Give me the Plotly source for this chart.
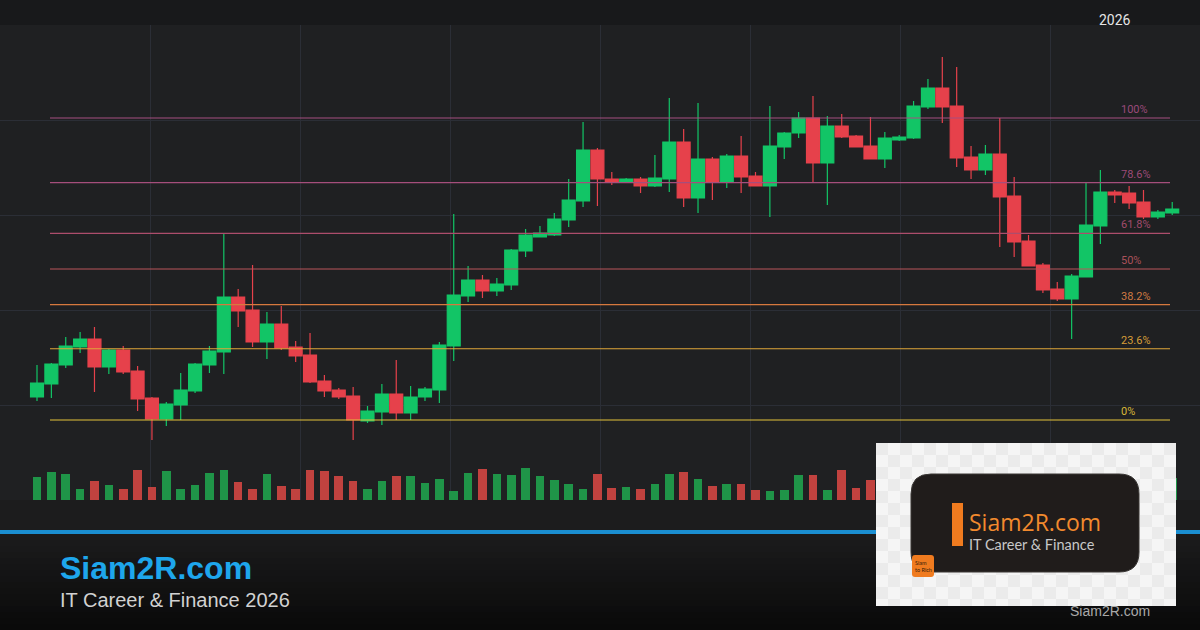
import plotly.graph_objects as go

W, H = 1200, 630

# ---------------- data (price units) ----------------
opens = [203, 216, 235, 253, 261, 233, 250, 229, 202, 181,
         195, 209, 235, 248, 303, 290, 258, 276, 253, 245,
         219, 210, 204, 179, 188, 206, 187, 203, 210, 254,
         304, 320, 309, 315, 349, 363, 365, 380, 399, 450,
         421, 418, 421, 414, 421, 458, 402, 441, 418, 444,
         424, 414, 453, 467, 482, 437, 474, 464, 454, 441,
         460, 462, 493, 512, 494, 443, 430, 446, 404, 359,
         335, 311, 301, 323, 374, 408, 407, 398, 383, 387]
closes = [217, 236, 254, 261, 233, 250, 228, 201, 181, 196,
          210, 236, 249, 303, 289, 258, 276, 252, 244, 218,
          209, 203, 180, 189, 206, 187, 203, 211, 255, 305,
          320, 309, 316, 350, 365, 367, 381, 400, 450, 421,
          418, 421, 414, 422, 458, 402, 441, 418, 444, 423,
          414, 454, 467, 482, 437, 474, 463, 453, 441, 462,
          463, 494, 512, 493, 442, 430, 446, 403, 358, 334,
          310, 301, 324, 375, 408, 405, 397, 383, 388, 391]
highs = [235, 237, 263, 268, 273, 251, 254, 234, 203, 198,
         227, 237, 254, 366, 311, 335, 288, 294, 259, 267,
         225, 212, 213, 194, 216, 240, 214, 213, 258, 386,
         334, 325, 322, 351, 371, 374, 387, 421, 478, 452,
         428, 422, 423, 445, 502, 471, 497, 443, 446, 464,
         428, 494, 468, 488, 504, 484, 486, 465, 483, 468,
         465, 499, 521, 543, 533, 454, 455, 482, 423, 365,
         337, 318, 326, 417, 430, 410, 414, 410, 390, 398]
lows = [199, 202, 232, 247, 208, 226, 226, 189, 154, 174,
        180, 207, 227, 226, 273, 253, 241, 250, 238, 217,
        203, 201, 133, 177, 175, 180, 180, 199, 197, 239,
        298, 302, 304, 310, 343, 363, 364, 373, 393, 394,
        415, 417, 407, 413, 408, 393, 387, 400, 412, 407,
        414, 383, 441, 462, 418, 395, 462, 453, 441, 432,
        459, 461, 491, 477, 433, 421, 425, 353, 343, 334,
        307, 299, 261, 323, 356, 397, 391, 381, 381, 385]
volumes = [23, 28, 26, 11, 19, 15, 11, 30, 13, 29,
           11, 15, 27, 30, 18, 11, 26, 14, 11, 30,
           29, 24, 19, 11, 19, 24, 24, 17, 21, 9,
           27, 31, 26, 25, 32, 24, 20, 16, 11, 26,
           12, 13, 11, 16, 26, 28, 21, 14, 16, 16,
           10, 9, 10, 25, 25, 10, 30, 12, 20, 18,
           22, 15, 26, 20, 24, 14, 28, 30, 25, 22,
           27, 18, 16, 21, 14, 12, 10, 15, 13, 22]

fib_ratios = [0.0, 0.236, 0.382, 0.5, 0.618, 0.786, 1.0]
fib_labels = ["0%", "23.6%", "38.2%", "50%", "61.8%", "78.6%", "100%"]
fib_line_colors = ["#e3c23a", "#e0a63a", "#d7793e", "#b9545a", "#ad4d6c", "#a54e7c", "#a64e80"]
fib_text_colors = ["#d9b838", "#d79d38", "#cf7a42", "#a9515a", "#a24b6c", "#9d4b78", "#9a4a7a"]
FIB_LOW, FIB_HIGH = 180, 482
year_label = "2026"

# ---------------- styling ----------------
UP, DOWN = "#12c566", "#e6414b"
VOL_UP, VOL_DOWN = "#1f9448", "#c1423f"
GRID = "#2b2e36"
PX_PER_BAR, FIRST_BAR_PX = 14.37, 37.0
PLOT_TOP_PX, PLOT_BOTTOM_PX = 25, 500

x = list(range(len(opens)))


def px_x(p):
    return (p - FIRST_BAR_PX) / PX_PER_BAR


def py(p):
    return (H - p) / H


def pxx(p):
    return p / W


fig = go.Figure()
fig.add_trace(go.Candlestick(
    x=x, open=opens, high=highs, low=lows, close=closes,
    increasing=dict(line=dict(color=UP, width=1.2), fillcolor=UP),
    decreasing=dict(line=dict(color=DOWN, width=1.2), fillcolor=DOWN),
    whiskerwidth=0, showlegend=False, hoverinfo="skip",
    xaxis="x", yaxis="y"))

vol_colors = [VOL_UP if c >= o else VOL_DOWN for o, c in zip(opens, closes)]
fig.add_trace(go.Bar(x=x, y=volumes, marker=dict(color=vol_colors, line=dict(width=0)),
                     width=0.6, showlegend=False, hoverinfo="skip",
                     xaxis="x", yaxis="y2"))

shapes = []
# backgrounds
shapes.append(dict(type="rect", xref="paper", yref="paper", x0=0, x1=1, y0=py(25), y1=1,
                   fillcolor="#18191b", line=dict(width=0), layer="below"))
shapes.append(dict(type="rect", xref="paper", yref="paper", x0=0, x1=1, y0=py(530), y1=py(500),
                   fillcolor="#1c1c1d", line=dict(width=0), layer="below"))
# footer gradient
n_bands = 16
top, bot = 534, H
c0, c1 = (0x1b, 0x1b, 0x1c), (0x0a, 0x0a, 0x0a)
for i in range(n_bands):
    t = i / (n_bands - 1)
    col = "rgb(%d,%d,%d)" % tuple(round(a + (b - a) * t) for a, b in zip(c0, c1))
    y0p = top + (bot - top) * i / n_bands
    y1p = top + (bot - top) * (i + 1) / n_bands
    shapes.append(dict(type="rect", xref="paper", yref="paper", x0=0, x1=1,
                       y0=py(y1p), y1=py(y0p), fillcolor=col, line=dict(width=0), layer="below"))
# blue rule
shapes.append(dict(type="rect", xref="paper", yref="paper", x0=0, x1=1, y0=py(534), y1=py(530),
                   fillcolor="#1b8fd2", line=dict(width=0), layer="above"))

# fib lines
for r, col in zip(fib_ratios, fib_line_colors):
    lvl = FIB_LOW + r * (FIB_HIGH - FIB_LOW)
    shapes.append(dict(type="line", xref="paper", yref="y", x0=pxx(50), x1=pxx(1170),
                       y0=lvl, y1=lvl, line=dict(color=col, width=1.2), layer="above"))


def rounded_rect(x0, y0, x1, y1, r):
    X = lambda v: pxx(v)
    Y = lambda v: py(v)
    return ("M %f,%f L %f,%f Q %f,%f %f,%f L %f,%f Q %f,%f %f,%f L %f,%f Q %f,%f %f,%f "
            "L %f,%f Q %f,%f %f,%f Z") % (
        X(x0 + r), Y(y0), X(x1 - r), Y(y0), X(x1), Y(y0), X(x1), Y(y0 + r),
        X(x1), Y(y1 - r), X(x1), Y(y1), X(x1 - r), Y(y1),
        X(x0 + r), Y(y1), X(x0), Y(y1), X(x0), Y(y1 - r),
        X(x0), Y(y0 + r), X(x0), Y(y0), X(x0 + r), Y(y0))


# logo card (light backdrop with a faint checker look)
shapes.append(dict(type="rect", xref="paper", yref="paper", x0=pxx(876), x1=pxx(1176),
                   y0=py(606), y1=py(443), fillcolor="#f5f5f5", line=dict(width=0), layer="above"))
CHECK = 12
for cy in range(443, 606, CHECK):
    for cx in range(876, 1176, CHECK):
        if ((cx - 876) // CHECK + (cy - 443) // CHECK) % 2 == 0:
            shapes.append(dict(type="rect", xref="paper", yref="paper",
                               x0=pxx(cx), x1=pxx(min(cx + CHECK, 1176)),
                               y0=py(min(cy + CHECK, 606)), y1=py(cy),
                               fillcolor="#ebebeb", line=dict(width=0), layer="above"))
shapes.append(dict(type="path", xref="paper", yref="paper", path=rounded_rect(911, 474, 1139, 572, 20),
                   fillcolor="#201c1b", line=dict(color="#3a3735", width=1), layer="above"))
shapes.append(dict(type="rect", xref="paper", yref="paper", x0=pxx(952), x1=pxx(963),
                   y0=py(546), y1=py(503), fillcolor="#f07b1f", line=dict(width=0), layer="above"))
shapes.append(dict(type="path", xref="paper", yref="paper", path=rounded_rect(912, 555, 934, 577, 3),
                   fillcolor="#f07b1f", line=dict(width=0), layer="above"))

annotations = []
for r, lab, col in zip(fib_ratios, fib_labels, fib_text_colors):
    lvl = FIB_LOW + r * (FIB_HIGH - FIB_LOW)
    annotations.append(dict(x=pxx(1119), xref="paper", xanchor="left", y=lvl, yref="y",
                            yanchor="bottom", yshift=0, text=lab, showarrow=False,
                            font=dict(family="Roboto", size=11, color=col)))
annotations.append(dict(x=pxx(1115), xref="paper", xanchor="center", y=py(20), yref="paper",
                        yanchor="middle", text=year_label, showarrow=False,
                        font=dict(family="Roboto", size=14, color="#e6e6e6")))
annotations.append(dict(x=pxx(58), xref="paper", xanchor="left", y=py(568), yref="paper",
                        yanchor="middle", text="<b>Siam2R.com</b>", showarrow=False,
                        font=dict(family="Liberation Sans", size=32, color="#1ea6ec")))
annotations.append(dict(x=pxx(58), xref="paper", xanchor="left", y=py(600), yref="paper",
                        yanchor="middle", text="IT Career & Finance 2026", showarrow=False,
                        font=dict(family="Liberation Sans", size=20, color="#d2d2d2")))
# card texts: one block, two lines
annotations.append(dict(
    x=pxx(968), xref="paper", xanchor="left", y=py(529), yref="paper", yanchor="middle",
    text=("<span style='font-family:Open Sans;font-size:23px;color:#f28a2e'>Siam2R.com</span><br>"
          "<span style='font-family:Lato;color:#c8c8c8'>IT Career &amp; Finance</span>"),
    showarrow=False, align="left", borderpad=0,
    font=dict(family="Lato", size=14.5, color="#c8c8c8")))
annotations.append(dict(x=pxx(913), xref="paper", xanchor="left", y=py(566), yref="paper",
                        yanchor="middle", text="Siam<br>to Rich", showarrow=False, align="left",
                        font=dict(family="Lato", size=5.5, color="#3a1d08")))
annotations.append(dict(x=pxx(1110), xref="paper", xanchor="center", y=py(611), yref="paper",
                        yanchor="middle", text="Siam2R.com", showarrow=False,
                        font=dict(family="Liberation Sans", size=14, color="#a9a9a9")))

fig.update_layout(
    width=W, height=H, margin=dict(l=0, r=0, t=0, b=0),
    paper_bgcolor="#1c1c1d", plot_bgcolor="#1f2022",
    showlegend=False, hovermode=False, boxgap=0.1, boxgroupgap=0, bargap=0,
    xaxis=dict(range=[px_x(0), px_x(W)], domain=[0, 1], showgrid=True, gridcolor=GRID, gridwidth=1,
               tickmode="array", tickvals=[px_x(p) for p in range(150, 1200, 150)],
               showticklabels=False, zeroline=False, showline=False, ticks="",
               rangeslider=dict(visible=False), fixedrange=True),
    yaxis=dict(domain=[py(PLOT_BOTTOM_PX), py(PLOT_TOP_PX)], range=[600 - PLOT_BOTTOM_PX, 600 - PLOT_TOP_PX],
               tickmode="linear", tick0=600 - PLOT_BOTTOM_PX, dtick=95, showgrid=True, gridcolor=GRID,
               gridwidth=1, showticklabels=False, zeroline=False, showline=False, ticks="", fixedrange=True),
    yaxis2=dict(domain=[py(PLOT_BOTTOM_PX), py(PLOT_BOTTOM_PX - 60)], range=[0, 60], showgrid=False,
                showticklabels=False, zeroline=False, showline=False, ticks="", fixedrange=True),
    shapes=shapes, annotations=annotations,
)

fig.write_html("out.html", config=dict(displayModeBar=False),
               post_script="document.body.style.margin='0';document.body.style.overflow='hidden';")
